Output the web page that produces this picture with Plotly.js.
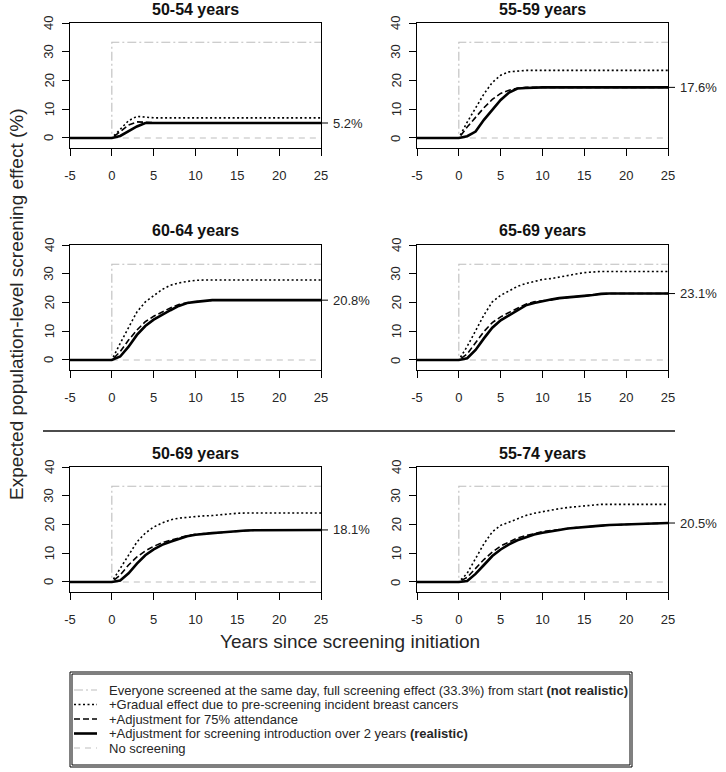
<!DOCTYPE html>
<html><head><meta charset="utf-8">
<script src="https://cdn.plot.ly/plotly-3.0.1.min.js"></script>
<style>html,body{margin:0;padding:0;background:#fff}#chart{width:726px;height:772px}</style>
</head><body><div id="chart"></div>
<script>
// ---- data ----
const years = [-5,0, 1,2,3,4,5, 6,7,8,9,10, 11,12,13,14,15, 16,17,18,19,20, 21,22,23,24,25];
const panelTitles = ['50-54 years','55-59 years','60-64 years','65-69 years','50-69 years','55-74 years'];
const fullEffect = 33.3;
const stepYears = [-5,0,0,25];
const stepValues = [0,0,fullEffect,fullEffect];
const noScreenYears = [0,25];
const noScreenValues = [0,0];

const gradual5054   = [0,0, 3.0,6.0,7.5,7.2,7.0, 7.0,7.0,7.0,7.0,7.0, 7.0,7.0,7.0,7.0,7.0, 7.0,7.0,7.0,7.0,7.0, 7.0,7.0,7.0,7.0,7.0];
const attend5054    = [0,0, 2.2,4.5,5.6,5.4,5.2, 5.2,5.2,5.2,5.2,5.2, 5.2,5.2,5.2,5.2,5.2, 5.2,5.2,5.2,5.2,5.2, 5.2,5.2,5.2,5.2,5.2];
const realistic5054 = [0,0, 0.7,2.3,4.0,5.2,5.2, 5.2,5.2,5.2,5.2,5.2, 5.2,5.2,5.2,5.2,5.2, 5.2,5.2,5.2,5.2,5.2, 5.2,5.2,5.2,5.2,5.2];

const gradual5559   = [0,0, 5.5,10.5,15.3,19.3,21.8, 23.0,23.3,23.5,23.5,23.5, 23.5,23.5,23.5,23.5,23.5, 23.5,23.5,23.5,23.5,23.5, 23.5,23.5,23.5,23.5,23.5];
const attend5559    = [0,0, 3.8,7.3,10.5,13.4,15.5, 16.6,17.3,17.6,17.6,17.6, 17.6,17.6,17.6,17.6,17.6, 17.6,17.6,17.6,17.6,17.6, 17.6,17.6,17.6,17.6,17.6];
const realistic5559 = [0,0, 0.6,2.2,6.3,9.8,13.2, 15.8,17.2,17.4,17.6,17.6, 17.6,17.6,17.6,17.6,17.6, 17.6,17.6,17.6,17.6,17.6, 17.6,17.6,17.6,17.6,17.6];

const gradual6064   = [0,0, 5.8,11.5,16.7,20.2,22.5, 24.5,26.0,26.8,27.3,27.7, 27.8,27.8,27.8,27.8,27.8, 27.8,27.8,27.8,27.8,27.8, 27.8,27.8,27.8,27.8,27.8];
const attend6064    = [0,0, 2.9,6.9,10.4,13.3,15.2, 16.7,18.1,19.3,19.9,20.2, 20.6,20.8,20.8,20.8,20.8, 20.8,20.8,20.8,20.8,20.8, 20.8,20.8,20.8,20.8,20.8];
const realistic6064 = [0,0, 1.2,4.6,8.7,11.8,14.0, 15.8,17.3,18.8,19.8,20.2, 20.6,20.8,20.8,20.8,20.8, 20.8,20.8,20.8,20.8,20.8, 20.8,20.8,20.8,20.8,20.8];

const gradual6569   = [0,0, 4.7,9.9,15.6,20.2,22.5, 24.0,25.6,26.6,27.4,28.0, 28.3,28.9,29.4,29.9,30.4, 30.7,30.8,30.8,30.8,30.8, 30.8,30.8,30.8,30.8,30.8];
const attend6569    = [0,0, 2.1,5.8,9.9,13.0,15.0, 16.5,18.0,19.4,20.2,20.5, 21.0,21.5,21.7,22.0,22.3, 22.6,23.0,23.1,23.1,23.1, 23.1,23.1,23.1,23.1,23.1];
const realistic6569 = [0,0, 0.6,3.5,7.5,11.2,13.8, 15.6,17.3,19.0,19.8,20.5, 21.0,21.5,21.7,22.0,22.3, 22.6,23.0,23.1,23.1,23.1, 23.1,23.1,23.1,23.1,23.1];

const gradual5069   = [0,0, 4.7,9.3,13.9,17.0,19.1, 20.5,21.6,22.2,22.5,22.8, 23.0,23.1,23.4,23.7,23.9, 24.0,24.0,24.0,24.0,24.0, 24.0,24.0,24.0,24.0,24.0];
const attend5069    = [0,0, 2.4,5.9,8.7,10.8,12.4, 13.6,14.5,15.4,16.1,16.6, 16.8,17.0,17.2,17.5,17.7, 17.9,18.0,18.0,18.1,18.1, 18.1,18.1,18.1,18.1,18.1];
const realistic5069 = [0,0, 0.5,3.0,6.4,9.3,11.3, 12.9,14.0,15.0,15.9,16.4, 16.8,17.0,17.2,17.5,17.7, 17.9,18.0,18.0,18.1,18.1, 18.1,18.1,18.1,18.1,18.1];

const gradual5574   = [0,0, 3.0,8.2,13.3,17.4,19.7, 20.8,22.0,23.1,23.9,24.5, 25.0,25.5,25.9,26.2,26.5, 26.8,27.0,27.0,27.0,27.0, 27.0,27.0,27.0,27.0,27.0];
const attend5574    = [0,0, 1.6,4.7,7.8,10.4,12.5, 13.9,15.3,16.1,16.9,17.5, 17.9,18.3,18.6,18.9,19.1, 19.4,19.6,19.8,19.9,20.0, 20.2,20.3,20.4,20.5,20.5];
const realistic5574 = [0,0, 0.3,2.8,5.9,9.0,11.3, 13.1,14.5,15.6,16.5,17.1, 17.7,18.1,18.6,18.9,19.1, 19.4,19.6,19.8,19.9,20.0, 20.2,20.3,20.4,20.5,20.5];

const yTicks = [0,10,20,30,40];
const xTicks = [-5,0,5,10,15,20,25];

const legendLabels = [
  'Everyone screened at the same day, full screening effect (33.3%) from start <b>(not realistic)</b>',
  '+Gradual effect due to pre-screening incident breast cancers',
  '+Adjustment for 75% attendance',
  '+Adjustment for screening introduction over 2 years <b>(realistic)</b>',
  'No screening'
];

// ---- build ----
const W = 726, H = 772;
const panels = [
  [gradual5054, attend5054, realistic5054],
  [gradual5559, attend5559, realistic5559],
  [gradual6064, attend6064, realistic6064],
  [gradual6569, attend6569, realistic6569],
  [gradual5069, attend5069, realistic5069],
  [gradual5574, attend5574, realistic5574]
];
const colLeft = [70, 417], boxW = 251;
const rowTop = [23, 245, 467], boxH = 125;
const FONT = 'Liberation Sans, Arial, sans-serif';
const grayCol = '#bdbdbd';
const txtCol = '#262626';

const styles = {
  everyone: {color: grayCol, width: 1.1, dash: '9px,3px,2px,3px'},
  gradual: {color: '#000', width: 1.6, dash: '2px,2.5px'},
  attend: {color: '#000', width: 1.6, dash: '6px,3px'},
  realistic: {color: '#000', width: 2.6, dash: 'solid'},
  none: {color: grayCol, width: 1.1, dash: '6px,5px'}
};

const data = [], layout = {
  width: W, height: H, margin: {l:0, r:0, t:0, b:0},
  paper_bgcolor: '#fff', plot_bgcolor: '#fff', showlegend: false,
  font: {family: FONT, color: txtCol},
  shapes: [], annotations: []
};

panels.forEach((p, i) => {
  const col = i % 2, row = Math.floor(i / 2);
  const sfx = i === 0 ? '' : String(i + 1);
  const xa = 'x' + sfx, ya = 'y' + sfx;
  const L = colLeft[col], T = rowTop[row];
  layout['xaxis' + sfx] = {
    domain: [L / W, (L + boxW) / W], range: [-5, 25], anchor: ya,
    tickvals: xTicks, ticktext: xTicks.map(String), ticks: 'outside', ticklen: 7, tickcolor: '#000', tickwidth: 1,
    ticklabelstandoff: 8,
    showline: true, mirror: true, linecolor: '#000', linewidth: 1,
    showgrid: false, zeroline: false, tickfont: {size: 13, color: txtCol}
  };
  layout['yaxis' + sfx] = {
    domain: [1 - (T + boxH) / H, 1 - T / H], range: [-3.5, 40], anchor: xa,
    tickvals: yTicks, ticks: 'outside', ticklen: 7, tickcolor: '#000', tickwidth: 1,
    showticklabels: false,
    showline: true, mirror: true, linecolor: '#000', linewidth: 1,
    showgrid: false, zeroline: false
  };
  // rotated y tick labels
  yTicks.forEach(v => layout.annotations.push({xref: 'paper', yref: ya, x: (L - 21) / W, y: v, text: String(v), textangle: -90, showarrow: false, xanchor: 'center', yanchor: 'middle', font: {size: 13, color: txtCol}}));
  const add = (x, y, st) => data.push({x, y, xaxis: xa, yaxis: ya, type: 'scatter', mode: 'lines', line: st, hoverinfo: 'skip'});
  add(stepYears, stepValues, styles.everyone);
  add(noScreenYears, noScreenValues, styles.none);
  add(years, p[0], styles.gradual);
  add(years, p[1], styles.attend);
  add(years, p[2], styles.realistic);
  // final value marker on right
  const fin = p[2][p[2].length - 1];
  layout.shapes.push({type: 'line', xref: 'paper', yref: ya, x0: (L + boxW) / W, x1: (L + boxW + 7) / W, y0: fin, y1: fin, line: {color: '#000', width: 1}});
  layout.annotations.push({xref: 'paper', yref: ya, x: (L + boxW + 10) / W, y: fin, text: fin.toFixed(1) + '%', showarrow: false, xanchor: 'left', yanchor: 'middle', font: {size: 13, color: txtCol}});
  // title
  layout.annotations.push({xref: 'paper', yref: 'paper', x: (L + boxW / 2) / W, y: 1 - (T - 14) / H, text: '<b>' + panelTitles[i] + '</b>', showarrow: false, xanchor: 'center', yanchor: 'middle', font: {size: 16, color: '#111'}});
});

// separator
layout.shapes.push({type: 'line', xref: 'paper', yref: 'paper', x0: 43 / W, x1: 675 / W, y0: 1 - 431 / H, y1: 1 - 431 / H, line: {color: '#111', width: 1.5}});

// axis titles
layout.annotations.push({xref: 'paper', yref: 'paper', x: 350 / W, y: 1 - 641 / H, text: 'Years since screening initiation', showarrow: false, xanchor: 'center', yanchor: 'middle', font: {size: 19, color: txtCol}});
layout.annotations.push({xref: 'paper', yref: 'paper', x: 16 / W, y: 1 - 304 / H, text: 'Expected population-level screening effect (%)', textangle: -90, showarrow: false, xanchor: 'center', yanchor: 'middle', font: {size: 19, color: txtCol}});

// legend box (double border)
const lb = {l: 70, r: 632, t: 672, b: 767};
layout.shapes.push({type: 'rect', xref: 'paper', yref: 'paper', x0: lb.l / W, x1: lb.r / W, y0: 1 - lb.b / H, y1: 1 - lb.t / H, line: {color: '#000', width: 1}});
layout.shapes.push({type: 'rect', xref: 'paper', yref: 'paper', x0: (lb.l + 2) / W, x1: (lb.r - 2) / W, y0: 1 - (lb.b - 2) / H, y1: 1 - (lb.t + 2) / H, line: {color: '#000', width: 1}});
const legStyles = [styles.everyone, styles.gradual, styles.attend, styles.realistic, styles.none];
const rowY = [690, 704.5, 719, 733.5, 748];
legendLabels.forEach((t, k) => {
  const y = 1 - rowY[k] / H;
  layout.shapes.push({type: 'line', xref: 'paper', yref: 'paper', x0: 74 / W, x1: 97 / W, y0: y, y1: y, line: legStyles[k]});
  layout.annotations.push({xref: 'paper', yref: 'paper', x: 107 / W, y: y, text: t, showarrow: false, xanchor: 'left', yanchor: 'middle', font: {size: 13, color: txtCol}});
});

Plotly.newPlot('chart', data, layout, {staticPlot: true, displayModeBar: false});
</script></body></html>
